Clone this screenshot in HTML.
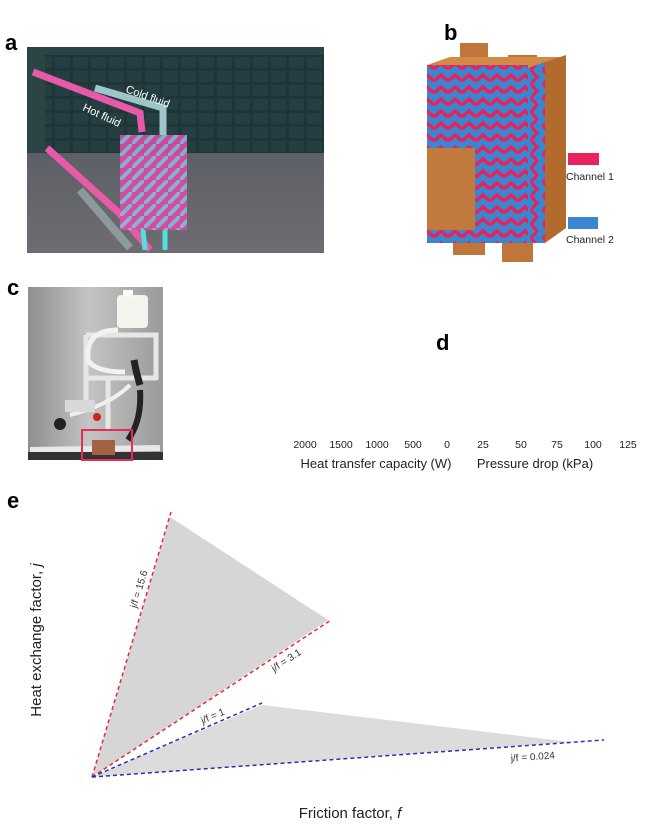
<!DOCTYPE html>
<html><head><style>
body{margin:0;width:650px;height:829px;background:#fff;font-family:"Liberation Sans",sans-serif;position:relative;overflow:hidden}
.l{position:absolute;font-weight:bold;font-size:22px}
</style></head><body>
<div class="l" style="left:5px;top:30px">a</div>
<div class="l" style="left:444px;top:20px">b</div>
<div class="l" style="left:7px;top:275px">c</div>
<div class="l" style="left:436px;top:330px">d</div>
<div class="l" style="left:7px;top:488px">e</div>
<svg width="650" height="829" style="position:absolute;left:0;top:0">
<defs>
<pattern id="zz" width="14" height="12" patternUnits="userSpaceOnUse">
<rect width="14" height="12" fill="#3b86d0"/>
<path d="M0 9 L7 3 L14 9" stroke="#e8225a" stroke-width="3.5" fill="none"/>
</pattern>
<pattern id="zv" width="12" height="14" patternUnits="userSpaceOnUse">
<rect width="12" height="14" fill="#3b86d0"/>
<path d="M3 0 L9 7 L3 14" stroke="#e8225a" stroke-width="3" fill="none"/>
</pattern>
<pattern id="dg" width="12" height="12" patternUnits="userSpaceOnUse">
<rect width="12" height="12" fill="#e04a9c"/>
<path d="M0 12 L12 0" stroke="#8ab8e8" stroke-width="4"/>
</pattern>
<pattern id="rk" width="18" height="14" patternUnits="userSpaceOnUse">
<rect width="18" height="14" fill="#1f3537"/>
<rect x="1" y="1" width="15" height="11" fill="#253e41"/>
</pattern>
<linearGradient id="fl" x1="0" y1="0" x2="0" y2="1"><stop offset="0" stop-color="#5c6066"/><stop offset="1" stop-color="#6e6c72"/></linearGradient>
<linearGradient id="cg" x1="0" y1="0" x2="1" y2="0"><stop offset="0" stop-color="#8e8e8e"/><stop offset="0.45" stop-color="#c4c4c4"/><stop offset="1" stop-color="#9a9a9a"/></linearGradient>
</defs>
<!-- panel a -->
<rect x="27" y="47" width="297" height="206" fill="#2b4446"/>
<rect x="45" y="55" width="279" height="98" fill="url(#rk)"/>
<rect x="27" y="153" width="297" height="100" fill="url(#fl)"/>
<path d="M33 72 L140 113 L142 132" stroke="#e85aa8" stroke-width="7" fill="none"/>
<path d="M95 88 L163 108 L163 135" stroke="#9ec6c8" stroke-width="7" fill="none"/>
<path d="M47 148 L118 212 L150 250" stroke="#e85aa8" stroke-width="7" fill="none"/>
<path d="M80 190 L130 248" stroke="#8c9a9c" stroke-width="8"/>
<path d="M143 230 L145 250 M165 230 L165 250" stroke="#50e0e0" stroke-width="5"/>
<rect x="120" y="135" width="67" height="95" fill="url(#dg)" opacity="0.9"/>
<text x="125" y="92" fill="#fff" font-size="11" transform="rotate(20 125 92)">Cold fluid</text>
<text x="82" y="110" fill="#fff" font-size="11" transform="rotate(25 82 110)">Hot fluid</text>
<!-- panel b -->
<rect x="460" y="43" width="28" height="25" fill="#c0763a"/>
<rect x="508" y="55" width="29" height="20" fill="#c0763a"/>
<path d="M427 65 L450 57 L566 57 L545 70 Z" fill="#d48a46"/>
<path d="M528 68 L566 55 L566 228 L545 243 L528 243 Z" fill="#b36a2e"/>
<rect x="453" y="238" width="32" height="17" fill="#c0763a"/>
<rect x="502" y="243" width="31" height="19" fill="#c0763a"/>
<rect x="427" y="65" width="101" height="178" fill="url(#zz)"/>
<polygon points="528,68 545,62 545,243 528,243" fill="url(#zv)"/>
<rect x="427" y="148" width="48" height="82" fill="#c27a3c"/>
<rect x="568" y="153" width="31" height="12" fill="#e8225a"/>
<rect x="568" y="217" width="30" height="12" fill="#3b86d0"/>
<text x="566" y="180" font-size="10.5" fill="#222">Channel 1</text>
<text x="566" y="243" font-size="10.5" fill="#222">Channel 2</text>
<!-- panel c -->
<rect x="28" y="287" width="135" height="173" fill="url(#cg)"/>
<rect x="117" y="295" width="31" height="33" rx="4" fill="#f4f4ee"/>
<rect x="123" y="290" width="10" height="7" fill="#fafafa"/>
<path d="M86 335 L156 335 L156 380 M86 335 L86 410 M84 378 L157 378 M108 380 L108 430" stroke="#e6e6e6" stroke-width="5" fill="none"/>
<path d="M118 330 Q85 330 88 360 Q95 372 125 372" stroke="#f2f2ee" stroke-width="5" fill="none"/>
<path d="M70 415 Q110 405 130 385" stroke="#f0f0ee" stroke-width="4" fill="none"/>
<path d="M134 360 Q136 372 140 385" stroke="#222" stroke-width="7" fill="none"/>
<path d="M140 390 Q142 420 128 440" stroke="#222" stroke-width="6" fill="none"/>
<rect x="65" y="400" width="30" height="12" fill="#d8d8d8"/>
<circle cx="97" cy="417" r="4" fill="#d02020"/>
<circle cx="60" cy="424" r="6" fill="#222"/>
<path d="M30 450 L160 448" stroke="#e8e8e8" stroke-width="6"/>
<rect x="28" y="452" width="135" height="8" fill="#333"/>
<rect x="92" y="440" width="23" height="15" fill="#a36240"/>
<rect x="82" y="430" width="50" height="30" fill="none" stroke="#e0305a" stroke-width="2"/>
<!-- panel e -->
<polygon points="92,777 170,517 328,620" fill="#d6d6d6"/>
<polygon points="92,777 262,705 571,742" fill="#dcdcdc"/>
<line x1="92" y1="777" x2="171" y2="512" stroke="#e0303c" stroke-width="1.5" stroke-dasharray="4,3"/>
<line x1="92" y1="777" x2="331" y2="620" stroke="#e0303c" stroke-width="1.5" stroke-dasharray="4,3"/>
<line x1="92" y1="777" x2="262" y2="703" stroke="#3030b0" stroke-width="1.5" stroke-dasharray="4,3"/>
<line x1="92" y1="777" x2="604" y2="740" stroke="#3030b0" stroke-width="1.5" stroke-dasharray="4,3"/>
<text x="142" y="590" font-size="10" fill="#333" text-anchor="middle" transform="rotate(-73 142 590)">j/f = 15.6</text>
<text x="288" y="663" font-size="10" fill="#333" text-anchor="middle" transform="rotate(-33 288 663)">j/f = 3.1</text>
<text x="214" y="719" font-size="10" fill="#333" text-anchor="middle" transform="rotate(-23 214 719)">j/f = 1</text>
<text x="533" y="760" font-size="10" fill="#333" text-anchor="middle" transform="rotate(-4 533 760)">j/f = 0.024</text>
<text x="41" y="640" font-size="15" fill="#222" text-anchor="middle" transform="rotate(-90 41 640)">Heat exchange factor,  <tspan font-style="italic">j</tspan></text>
<text x="350" y="818" font-size="15" fill="#222" text-anchor="middle">Friction factor,  <tspan font-style="italic">f</tspan></text>
<!-- panel d axis -->
<g font-size="10.5" fill="#222" text-anchor="middle">
<text x="305" y="448">2000</text><text x="341" y="448">1500</text><text x="377" y="448">1000</text><text x="413" y="448">500</text><text x="447" y="448">0</text>
<text x="483" y="448">25</text><text x="521" y="448">50</text><text x="557" y="448">75</text><text x="593" y="448">100</text><text x="628" y="448">125</text>
</g>
<text x="376" y="468" font-size="13" fill="#222" text-anchor="middle">Heat transfer capacity (W)</text>
<text x="535" y="468" font-size="13" fill="#222" text-anchor="middle">Pressure drop (kPa)</text>
</svg>
</body></html>
